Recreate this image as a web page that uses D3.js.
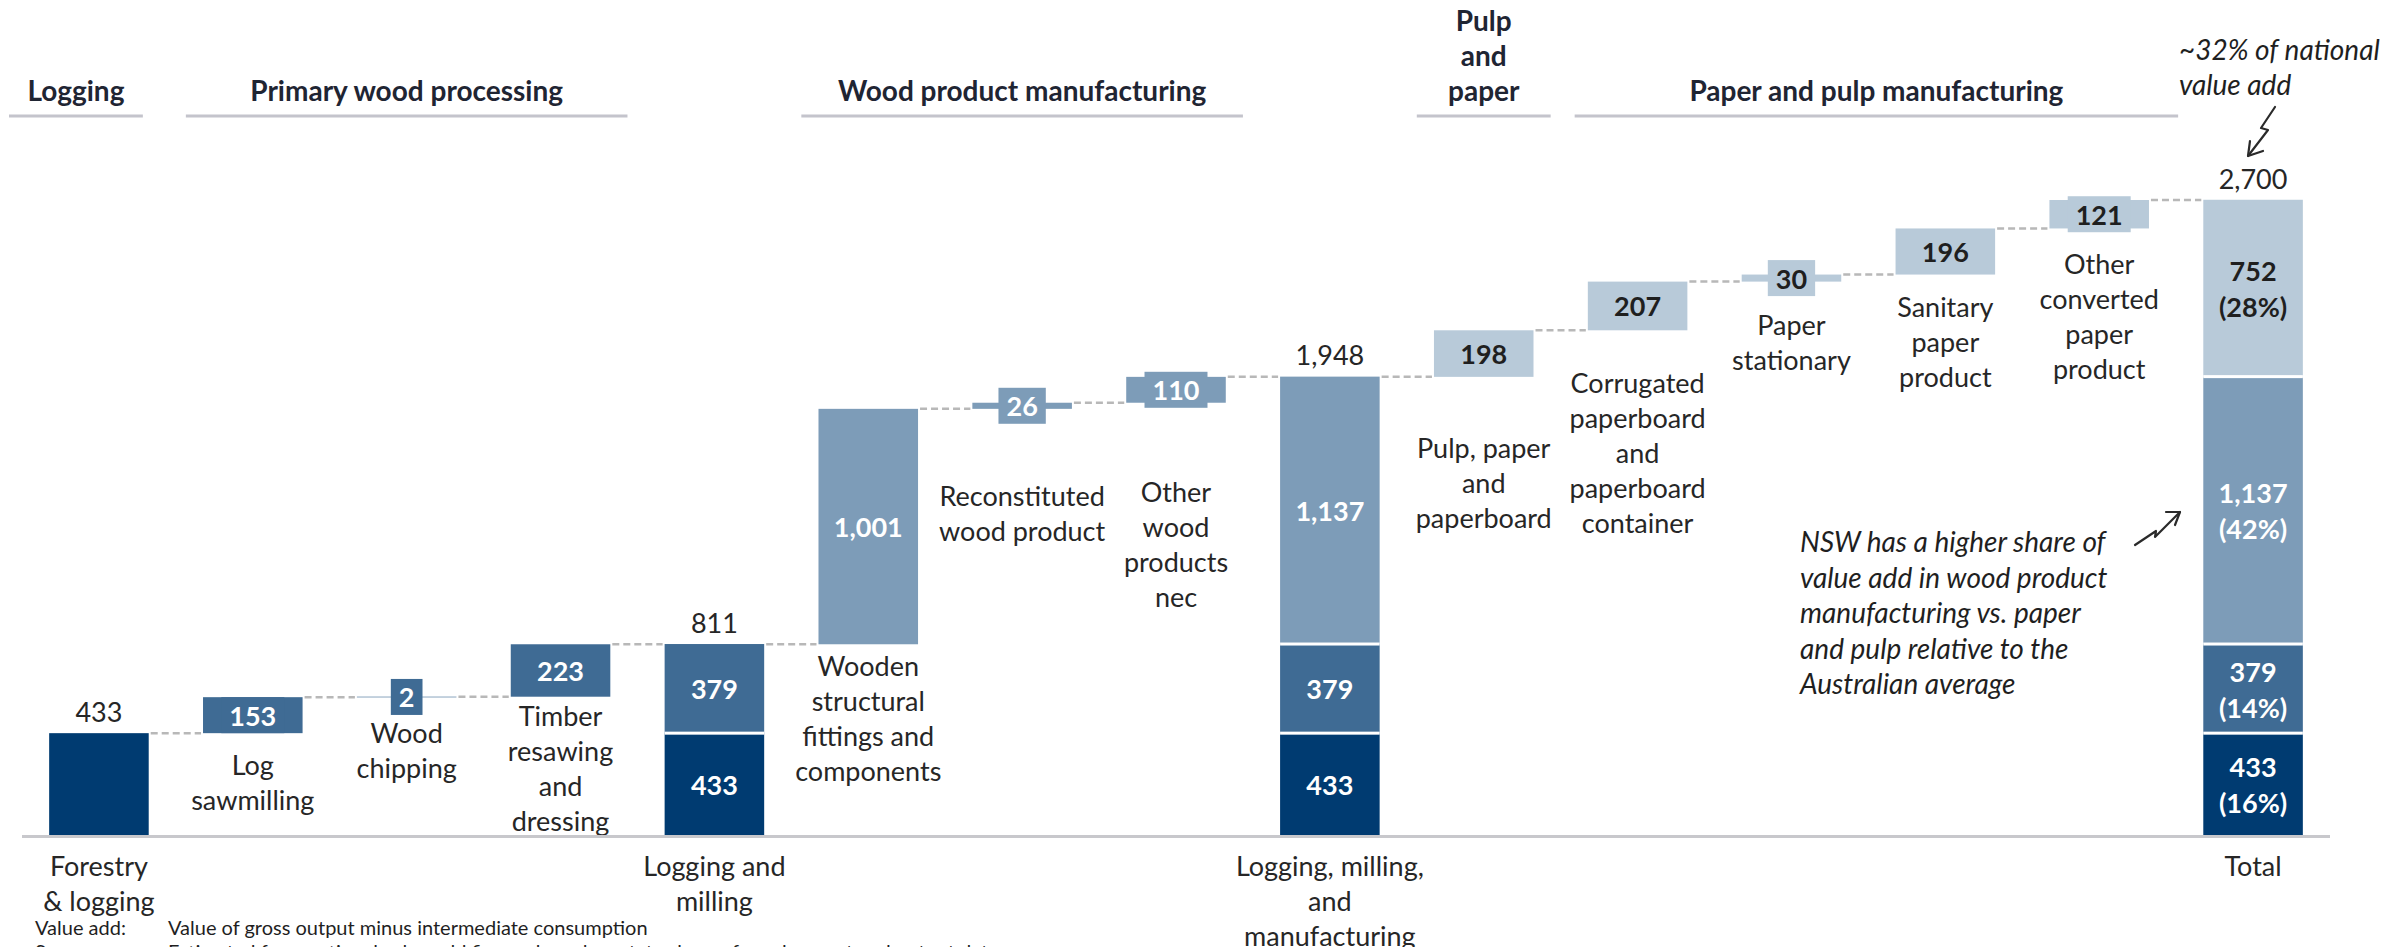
<!DOCTYPE html>
<html>
<head>
<meta charset="utf-8">
<script src="https://cdn.jsdelivr.net/npm/d3@7"></script>
<style>
  html, body { margin: 0; padding: 0; background: #ffffff; }
  svg { display: block; font-family: Lato, "Open Sans", "Liberation Sans", sans-serif; }
</style>
</head>
<body>
<svg id="chart" width="2397" height="947"></svg>
<script>
// ---- data ---------------------------------------------------------------
const categories = [
  "Forestry\n& logging", "Log\nsawmilling", "Wood\nchipping",
  "Timber\nresawing\nand\ndressing", "Logging and\nmilling",
  "Wooden\nstructural\nfittings and\ncomponents", "Reconstituted\nwood product",
  "Other\nwood\nproducts\nnec", "Logging, milling,\nand\nmanufacturing",
  "Pulp, paper\nand\npaperboard",
  "Corrugated\npaperboard\nand\npaperboard\ncontainer",
  "Paper\nstationary", "Sanitary\npaper\nproduct",
  "Other\nconverted\npaper\nproduct", "Total"
];
// value added by each step (null = subtotal column)
const stepValues = [433, 153, 2, 223, null, 1001, 26, 110, null, 198, 207, 30, 196, 121, null];
// industry stage each step belongs to
const stepStage = [0, 1, 1, 1, null, 2, 2, 2, null, 3, 3, 3, 3, 3, null];
// stage totals shown inside the stacked subtotal columns
const stageTotals = [433, 379, 1137, 752];
// how many stages each subtotal column stacks, and its stated total
const subtotalIndex = [4, 8, 14];
const subtotalStageCount = [2, 3, 4];
const subtotalValues = [811, 1948, 2700];
// section headers and the columns they span
const headerNames = ["Logging", "Primary wood processing", "Wood product manufacturing", "Pulp\nand\npaper", "Paper and pulp manufacturing"];
const headerFirst = [0, 1, 5, 9, 10];
const headerLast  = [0, 3, 7, 9, 13];

// ---- layout -------------------------------------------------------------
const W = 2397, H = 947;
const baseY = 835;
const stageFill = ["#003b71", "#3f6b94", "#7d9cb8", "#b8cad9"];
const stageText = ["#ffffff", "#ffffff", "#ffffff", "#1f1f1f"];
const textCol = "#262626";
const labelLine = 35;
// distance from a step bar's bottom to the centre of its first label line
const labelDrop = [0, 31, 35, 18, 0, 21, 86, 88, 0, 70, 52, 42, 31, 35, 0];
const headerNudge = [-23, 0, 0, 0, 4];
const headerGrow = [0, 0, 0, 0, 8];

const svg = d3.select("#chart");
const n = categories.length;
const x = d3.scaleBand().domain(d3.range(n)).range([22, 2330])
  .paddingInner(0.353).paddingOuter(0.1765);
const y = d3.scaleLinear().domain([0, 2700]).range([baseY, 200]);
const bw = x.bandwidth();
const cx = i => x(i) + bw / 2;
const fmt = d3.format(",");
const pct = d3.format(".0%");

// build column geometry
const cols = [];
let run = 0;
categories.forEach((c, i) => {
  if (stepValues[i] !== null) {
    cols.push({ i, kind: "step", lo: run, hi: run + stepValues[i], v: stepValues[i], stage: stepStage[i] });
    run += stepValues[i];
  } else {
    const k = subtotalIndex.indexOf(i);
    const segs = [];
    let acc = 0;
    for (let s = 0; s < subtotalStageCount[k]; s++) {
      segs.push({ stage: s, lo: acc, hi: acc + stageTotals[s], v: stageTotals[s] });
      acc += stageTotals[s];
    }
    cols.push({ i, kind: "sub", segs, total: subtotalValues[k], hi: subtotalValues[k] });
  }
});

const gBars = svg.append("g");
const gConn = svg.append("g");
const gText = svg.append("g");

// dashed connectors between neighbouring columns at the running total
for (let k = 0; k < cols.length - 1; k++) {
  const lvl = cols[k].hi;
  gConn.append("line")
    .attr("x1", x(k) + bw + 2).attr("x2", x(k + 1) - 2)
    .attr("y1", y(lvl)).attr("y2", y(lvl))
    .attr("stroke", "#b8b8b8").attr("stroke-width", 2.5)
    .attr("stroke-dasharray", "7,4");
}

// axis baseline
svg.append("line")
  .attr("x1", x.range()[0]).attr("x2", x.range()[1])
  .attr("y1", baseY + 1.5).attr("y2", baseY + 1.5)
  .attr("stroke", "#c8c8cc").attr("stroke-width", 3);

function multiLine(g, str, xc, yFirst, opts) {
  const t = g.append("text")
    .attr("x", xc).attr("y", yFirst)
    .attr("text-anchor", opts.anchor || "middle")
    .attr("dominant-baseline", "central")
    .attr("font-size", opts.size)
    .attr("font-weight", opts.weight || 400)
    .attr("font-style", opts.style || "normal")
    .attr("fill", opts.fill || textCol);
  str.split("\n").forEach((line, j) => {
    t.append("tspan").attr("x", xc).attr("dy", j === 0 ? 0 : opts.lh).text(line);
  });
  return t;
}

cols.forEach(col => {
  const i = col.i;
  if (col.kind === "step") {
    const top = y(col.hi), bot = y(col.lo);
    const h = Math.max(bot - top, 0.6);
    gBars.append("rect")
      .attr("x", x(i)).attr("y", top).attr("width", bw).attr("height", h)
      .attr("fill", stageFill[col.stage]);
    if (i === 0) {
      // first column: value sits above the bar
      gText.append("text").attr("x", cx(i)).attr("y", top - 22)
        .attr("text-anchor", "middle").attr("dominant-baseline", "central")
        .attr("font-size", 27).attr("fill", textCol).text(fmt(col.v));
    } else {
      const mid = (top + bot) / 2;
      const t = gText.append("text").attr("x", cx(i)).attr("y", mid)
        .attr("text-anchor", "middle").attr("dominant-baseline", "central")
        .attr("font-size", 27).attr("font-weight", 700)
        .attr("fill", stageText[col.stage]).text(fmt(col.v));
      if (h < 36) {
        const tw = t.node().getComputedTextLength();
        gBars.append("rect")
          .attr("x", cx(i) - (tw + 16) / 2).attr("y", mid - 18)
          .attr("width", tw + 16).attr("height", 36)
          .attr("fill", stageFill[col.stage]);
      }
    }
    // category label
    const first = i === 0 ? baseY + 30 : bot + labelDrop[i];
    multiLine(gText, categories[i], cx(i), first, { size: 27, lh: labelLine });
  } else {
    const isTotal = col.segs.length === 4;
    col.segs.forEach((s, j) => {
      const top = y(s.hi), bot = y(s.lo);
      gBars.append("rect")
        .attr("x", x(i)).attr("y", top).attr("width", bw)
        .attr("height", bot - top)
        .attr("fill", stageFill[s.stage]);
      if (j > 0) {
        // white gap between stacked stages
        gBars.append("rect")
          .attr("x", x(i)).attr("y", bot - 1.5).attr("width", bw).attr("height", 3)
          .attr("fill", "#ffffff");
      }
      const mid = (top + bot) / 2;
      if (isTotal) {
        const str = fmt(s.v) + "\n(" + pct(s.v / col.total) + ")";
        multiLine(gText, str, cx(i), mid - 18,
          { size: 27, lh: 36, weight: 700, fill: stageText[s.stage] });
      } else {
        gText.append("text").attr("x", cx(i)).attr("y", mid)
          .attr("text-anchor", "middle").attr("dominant-baseline", "central")
          .attr("font-size", 27).attr("font-weight", 700)
          .attr("fill", stageText[s.stage]).text(fmt(s.v));
      }
    });
    gText.append("text").attr("x", cx(i)).attr("y", y(col.total) - 22)
      .attr("text-anchor", "middle").attr("dominant-baseline", "central")
      .attr("font-size", 27).attr("fill", textCol).text(fmt(col.total));
    multiLine(gText, categories[i], cx(i), baseY + 30, { size: 27, lh: labelLine });
  }
});

// section headers with underlines
const half = x.step() * x.paddingInner() / 2;
headerNames.forEach((name, k) => {
  const x0 = x(headerFirst[k]) - half + 10 + headerNudge[k];
  const x1 = x(headerLast[k]) + bw + half - 10 + headerNudge[k] + headerGrow[k];
  svg.append("line").attr("x1", x0).attr("x2", x1).attr("y1", 116).attr("y2", 116)
    .attr("stroke", "#c4c4cc").attr("stroke-width", 3);
  const lines = name.split("\n");
  multiLine(svg, name, (x0 + x1) / 2, 90 - (lines.length - 1) * 35,
    { size: 28, lh: 35, weight: 700, fill: "#1f2533" });
});

// annotations
const note = svg.append("g");
multiLine(note, "~32% of national\nvalue add", 2179, 49,
  { size: 28, lh: 35, style: "italic", anchor: "start", fill: "#1f1f1f" });
multiLine(note, "NSW has a higher share of\nvalue add in wood product\nmanufacturing vs. paper\nand pulp relative to the\nAustralian average",
  1800, 541, { size: 28, lh: 35.5, style: "italic", anchor: "start", fill: "#1f1f1f" });

function bolt(g, pts, tip, wings) {
  g.append("path").attr("d", d3.line()(pts))
    .attr("fill", "none").attr("stroke", "#2a2a2a").attr("stroke-width", 2.2)
    .attr("stroke-linejoin", "round").attr("stroke-linecap", "round");
  g.append("path").attr("d", d3.line()([wings[0], tip, wings[1]]))
    .attr("fill", "none").attr("stroke", "#2a2a2a").attr("stroke-width", 2.2)
    .attr("stroke-linecap", "round").attr("stroke-linejoin", "round");
}
bolt(note, [[2275, 107], [2261, 128], [2268, 130], [2248, 156]], [2248, 156], [[2250, 141], [2263, 151]]);
bolt(note, [[2135, 545], [2156, 531], [2155, 537], [2180, 512]], [2180, 512], [[2166, 512], [2175, 525]]);

// footnotes
const foot = svg.append("g").attr("font-size", 20).attr("fill", "#1f1f1f");
foot.append("text").attr("x", 35).attr("y", 935).text("Value add:");
foot.append("text").attr("x", 168).attr("y", 935).text("Value of gross output minus intermediate consumption");
foot.append("text").attr("x", 35).attr("y", 959).text("Source:");
foot.append("text").attr("x", 168).attr("y", 959).text("Estimated from national value add figures based on state share of employment and output data");
</script>
</body>
</html>
